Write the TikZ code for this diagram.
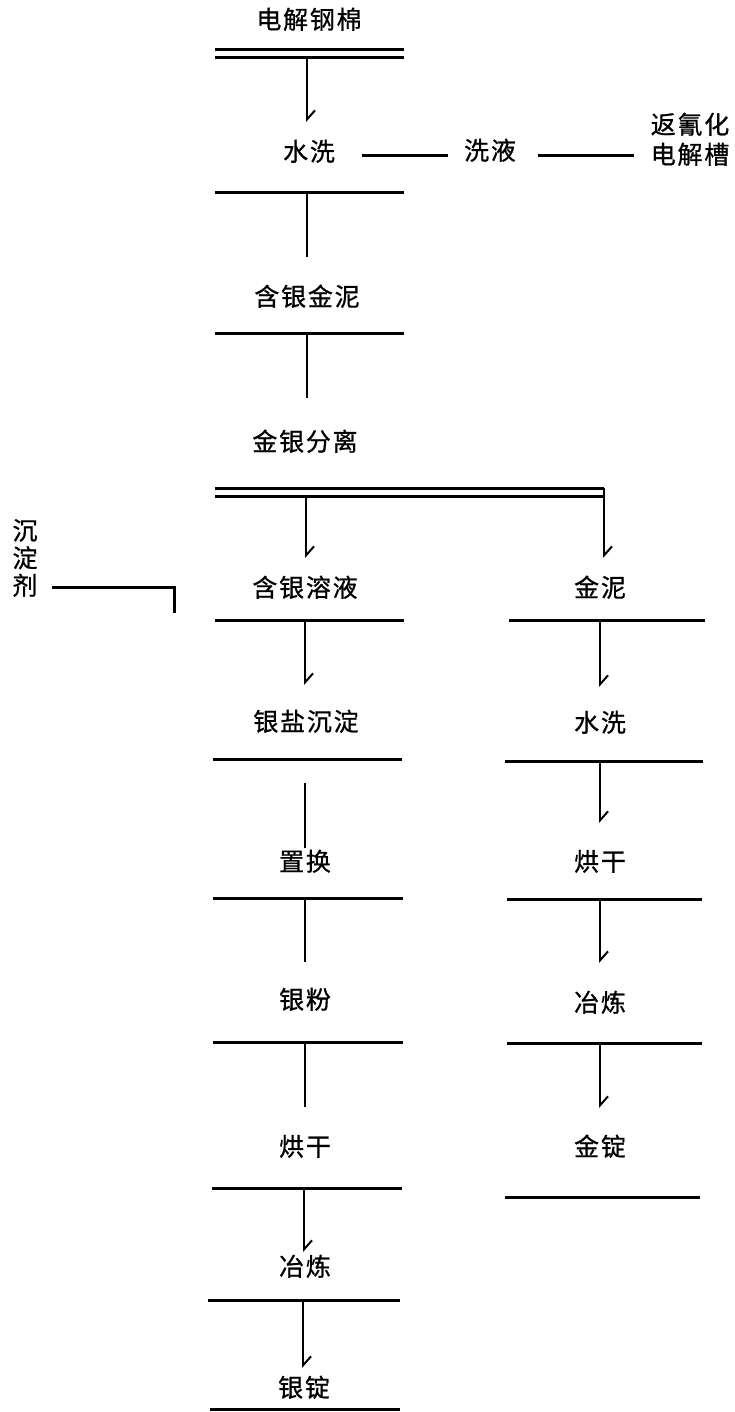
\documentclass[tikz,border=0pt]{standalone}
\usepackage{fontspec}
\newfontfamily\cjk{Noto Sans CJK SC}[FakeBold=0.8, LetterSpace=7]
\usetikzlibrary{arrows.meta}
\tikzset{
  lab/.style={font=\cjk\fontsize{25}{30}\selectfont, inner sep=0pt, text height=0.88em, text depth=0.12em, align=center},
  rule/.style={line width=3pt},
  flow/.style={line width=2.4pt},
  arr/.style={flow, -{Straight Barb[harpoon, length=9pt, width=16pt, line width=2pt]}},
}
\begin{document}
\begin{tikzpicture}[x=1pt,y=-1pt]
\useasboundingbox (0,0) rectangle (735,1412);
% ---------- main column ----------
\node[lab] (t1) at (309,25) {电解钢棉};
\coordinate (r1a) at (215,50); \coordinate (r1b) at (404,50);
\coordinate (r1c) at (215,58); \coordinate (r1d) at (404,58);
\draw[rule] (r1a) -- (r1b); \draw[rule] (r1c) -- (r1d);
\coordinate (a1s) at (307,58); \coordinate (a1e) at (307,122);
\draw[arr] (a1s) -- (a1e);

\node[lab] (t2) at (309,157) {水洗};
\coordinate (r2a) at (215,193); \coordinate (r2b) at (404,193);
\draw[rule] (r2a) -- (r2b);
\coordinate (a2s) at (307,193); \coordinate (a2e) at (307,257);
\draw[flow] (a2s) -- (a2e);

\node[lab] (wl) at (490,156) {洗液};
\node[lab] (ret) at (690,160) {返氰化\\电解槽};
\coordinate (w1a) at (362,156); \coordinate (w1b) at (448,156);
\coordinate (w2a) at (538,156); \coordinate (w2b) at (634,156);
\draw[rule] (w1a) -- (w1b);
\draw[rule] (w2a) -- (w2b);

\node[lab] (t3) at (307,302) {含银金泥};
\coordinate (r3a) at (215,333); \coordinate (r3b) at (404,333);
\draw[rule] (r3a) -- (r3b);
\coordinate (a3s) at (307,333); \coordinate (a3e) at (307,398);
\draw[flow] (a3s) -- (a3e);

\node[lab] (t4) at (305,447) {金银分离};
\coordinate (r4a) at (215,488); \coordinate (r4b) at (604,488);
\coordinate (r4c) at (215,496); \coordinate (r4d) at (604,496);
\draw[rule] (r4a) -- (r4b); \draw[rule] (r4c) -- (r4d);
\coordinate (a4s) at (306,496); \coordinate (a4e) at (306,558);
\draw[arr] (a4s) -- (a4e);
\coordinate (b4e) at (604,558);
\draw[arr] (r4b) -- (b4e);

% ---------- silver branch ----------
\node[lab] (s1) at (305,593) {含银溶液};
\coordinate (s1a) at (215,620); \coordinate (s1b) at (404,620);
\draw[rule] (s1a) -- (s1b);
\coordinate (sa1s) at (305,620); \coordinate (sa1e) at (305,685);
\draw[arr] (sa1s) -- (sa1e);

\node[lab,font=\cjk\fontsize{25}{27.5}\selectfont] (pp) at (25,591) {沉\\淀\\剂};
\coordinate (p1) at (52,587); \coordinate (p2) at (174,587); \coordinate (p3) at (174,613);
\draw[rule] (p1) -- (p2) -- (p3);

\node[lab] (s2) at (306,727) {银盐沉淀};
\coordinate (s2a) at (213,759); \coordinate (s2b) at (402,759);
\draw[rule] (s2a) -- (s2b);
\coordinate (sa2s) at (305,783); \coordinate (sa2e) at (305,848);
\draw[flow] (sa2s) -- (sa2e);

\node[lab] (s3) at (305,867) {置换};
\coordinate (s3a) at (213,898); \coordinate (s3b) at (403,898);
\draw[rule] (s3a) -- (s3b);
\coordinate (sa3s) at (305,898); \coordinate (sa3e) at (305,962);
\draw[flow] (sa3s) -- (sa3e);

\node[lab] (s4) at (305,1005) {银粉};
\coordinate (s4a) at (213,1042); \coordinate (s4b) at (403,1042);
\draw[rule] (s4a) -- (s4b);
\coordinate (sa4s) at (305,1042); \coordinate (sa4e) at (305,1107);
\draw[flow] (sa4s) -- (sa4e);

\node[lab] (s5) at (305,1152) {烘干};
\coordinate (s5a) at (212,1188); \coordinate (s5b) at (402,1188);
\draw[rule] (s5a) -- (s5b);
\coordinate (sa5s) at (304,1188); \coordinate (sa5e) at (304,1252);
\draw[arr] (sa5s) -- (sa5e);

\node[lab] (s6) at (305,1272) {冶炼};
\coordinate (s6a) at (208,1300); \coordinate (s6b) at (400,1300);
\draw[rule] (s6a) -- (s6b);
\coordinate (sa6s) at (303,1300); \coordinate (sa6e) at (303,1368);
\draw[arr] (sa6s) -- (sa6e);

\node[lab] (s7) at (304,1393) {银锭};
\coordinate (s7a) at (210,1409); \coordinate (s7b) at (400,1409);
\draw[rule] (s7a) -- (s7b);

% ---------- gold branch ----------
\node[lab] (g1) at (600,593) {金泥};
\coordinate (g1a) at (509,620); \coordinate (g1b) at (705,620);
\draw[rule] (g1a) -- (g1b);
\coordinate (ga1s) at (600,620); \coordinate (ga1e) at (600,687);
\draw[arr] (ga1s) -- (ga1e);

\node[lab] (g2) at (600,728) {水洗};
\coordinate (g2a) at (505,761); \coordinate (g2b) at (703,761);
\draw[rule] (g2a) -- (g2b);
\coordinate (ga2s) at (600,761); \coordinate (ga2e) at (600,823);
\draw[arr] (ga2s) -- (ga2e);

\node[lab] (g3) at (600,867) {烘干};
\coordinate (g3a) at (507,899); \coordinate (g3b) at (702,899);
\draw[rule] (g3a) -- (g3b);
\coordinate (ga3s) at (600,899); \coordinate (ga3e) at (600,963);
\draw[arr] (ga3s) -- (ga3e);

\node[lab] (g4) at (600,1008) {冶炼};
\coordinate (g4a) at (507,1043); \coordinate (g4b) at (702,1043);
\draw[rule] (g4a) -- (g4b);
\coordinate (ga4s) at (600,1043); \coordinate (ga4e) at (600,1108);
\draw[arr] (ga4s) -- (ga4e);

\node[lab] (g5) at (600,1152) {金锭};
\coordinate (g5a) at (505,1197); \coordinate (g5b) at (700,1197);
\draw[rule] (g5a) -- (g5b);
\end{tikzpicture}
\end{document}
